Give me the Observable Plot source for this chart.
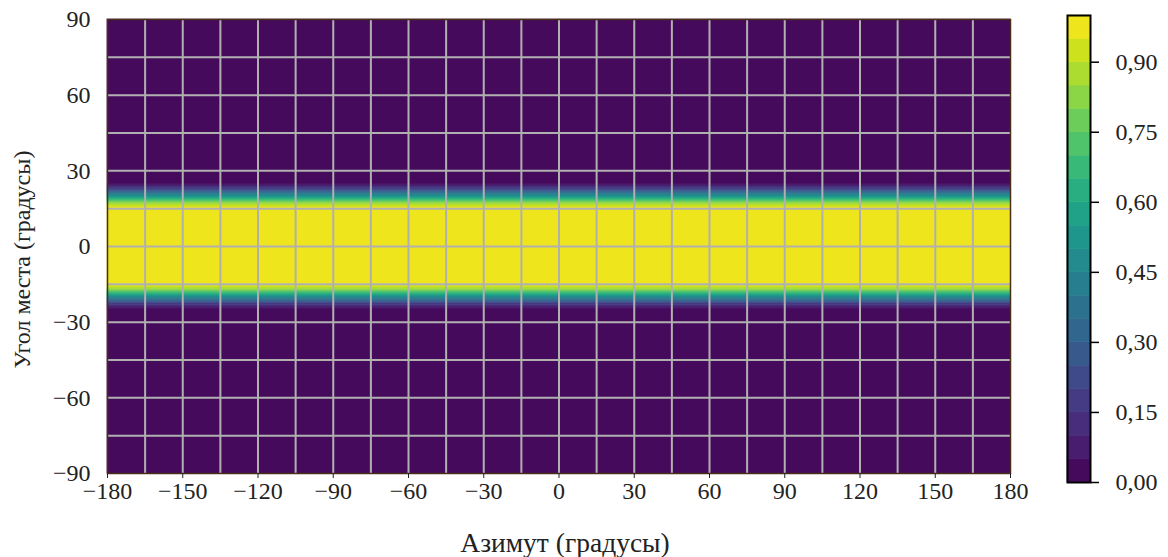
<!DOCTYPE html>
<html><head><meta charset="utf-8">
<script src="https://cdn.jsdelivr.net/npm/d3@7"></script>
<script src="https://cdn.jsdelivr.net/npm/@observablehq/plot@0.6"></script>
<style>
body{margin:0;background:#fff;}
#wrap{position:relative;width:1168px;height:557px;}
#main{position:absolute;left:0;top:0;}
#cbar{position:absolute;left:1040px;top:0;}
#wrap svg{overflow:visible;max-width:none;font-family:"Liberation Serif","Times New Roman",serif !important;font-size:24px;}
#wrap svg text{font-family:"Liberation Serif","Times New Roman",serif !important;fill:#222;}
</style></head><body><div id="wrap"><div id="main"></div><div id="cbar"></div></div>
<script>
// ---- data ----
const azimuthTicks = [-180, -150, -120, -90, -60, -30, 0, 30, 60, 90, 120, 150, 180];
const elevationTicks = [-90, -60, -30, 0, 30, 60, 90];
const azimuthGrid = [-165, -150, -135, -120, -105, -90, -75, -60, -45, -30, -15, 0, 15, 30, 45, 60, 75, 90, 105, 120, 135, 150, 165];
const elevationGrid = [-75, -60, -45, -30, -15, 0, 15, 30, 45, 60, 75];
const levels = [0, 0.05, 0.10, 0.15, 0.20, 0.25, 0.30, 0.35, 0.40, 0.45, 0.50, 0.55, 0.60, 0.65, 0.70, 0.75, 0.80, 0.85, 0.90, 0.95, 1.00];
// elevation (deg) where the pattern crosses levels[1..19], upper side
const upperCross = [24.6, 23.8, 23.1, 22.5, 22.0, 21.5, 21.1, 20.7, 20.25, 19.8, 19.4, 19.0, 18.6, 18.2, 17.75, 17.3, 16.8, 16.2, 15.4];
// elevation (deg) where the pattern crosses levels[1..19], lower side
const lowerCross = [-24.6, -23.8, -23.1, -22.5, -22.0, -21.5, -21.1, -20.7, -20.25, -19.8, -19.4, -19.0, -18.6, -18.2, -17.75, -17.3, -16.8, -16.2, -15.4];
const colorTicks = [0, 0.15, 0.30, 0.45, 0.60, 0.75, 0.90];
const xTitle = "Азимут (градусы)";
const yTitle = "Угол места (градусы)";

// ---- build band table ----
const elMin = elevationTicks[0], elMax = elevationTicks[elevationTicks.length - 1];
const azMin = azimuthTicks[0], azMax = azimuthTicks[azimuthTicks.length - 1];
const nb = levels.length - 1;
const bands = [];
for (let k = 0; k < nb; k++) {
  const v = (levels[k] + levels[k + 1]) / 2;
  if (k === nb - 1) {
    bands.push({y1: lowerCross[k - 1], y2: upperCross[k - 1], v});
  } else {
    const uTop = k === 0 ? elMax : upperCross[k - 1];
    const lBot = k === 0 ? elMin : lowerCross[k - 1];
    bands.push({y1: upperCross[k], y2: uTop, v});
    bands.push({y1: lBot, y2: lowerCross[k], v});
  }
}
const colorScale = {
  type: "threshold",
  domain: levels.slice(1, -1),
  range: levels.slice(0, -1).map((l, i) => d3.interpolateViridis((l + levels[i + 1]) / 2))
};
const font = {fontFamily: "Liberation Serif, Times New Roman, serif", fontSize: "24px", background: "transparent"};
const fmtNum = d => d < 0 ? "\u2212" + (-d) : String(d);

const main = Plot.plot({
  width: 1040, height: 557,
  marginLeft: 107, marginRight: 30, marginTop: 19, marginBottom: 84,
  style: font,
  x: {domain: [azMin, azMax]},
  y: {domain: [elMin, elMax]},
  color: colorScale,
  marks: [
    Plot.rect(bands, {x1: azMin, x2: azMax, y1: "y1", y2: "y2", fill: "v", stroke: "v", strokeWidth: 0.6}),
    Plot.ruleX(azimuthGrid, {stroke: "#b0b0b0", strokeWidth: 2}),
    Plot.ruleY(elevationGrid, {stroke: "#b0b0b0", strokeWidth: 2}),
    Plot.frame({stroke: "#4a2e1a", strokeWidth: 1.5}),
    Plot.axisX(azimuthTicks, {tickSize: 5, tickPadding: 3, stroke: "#222", label: null, tickFormat: fmtNum}),
    Plot.axisY(elevationTicks, {tickSize: 0, tickPadding: 17, label: null, tickFormat: fmtNum}),
    Plot.text([xTitle], {text: d => d, frameAnchor: "bottom", dy: 70, dx: 6, fontSize: 27.5, lineAnchor: "middle"}),
    Plot.text([yTitle], {text: d => d, frameAnchor: "left", dx: -85, dy: 13, rotate: -90, fontSize: 24, textAnchor: "middle", lineAnchor: "middle"})
  ]
});
document.getElementById("main").appendChild(main);

const cbands = levels.slice(0, -1).map((l, i) => ({y1: l, y2: levels[i + 1], v: (l + levels[i + 1]) / 2}));
const cbar = Plot.plot({
  width: 128, height: 557,
  marginLeft: 27, marginRight: 78, marginTop: 15, marginBottom: 75,
  style: font,
  x: {domain: [0, 1], axis: null},
  y: {domain: [levels[0], levels[levels.length - 1]]},
  color: colorScale,
  marks: [
    Plot.rect(cbands, {x1: 0, x2: 1, y1: "y1", y2: "y2", fill: "v", stroke: "v", strokeWidth: 0.6}),
    Plot.frame({stroke: "#000", strokeWidth: 2}),
    Plot.axisY(colorTicks, {anchor: "right", tickSize: 8, tickPadding: 17, strokeWidth: 1.5, stroke: "#000", label: null, tickFormat: d => d3.format(".2f")(d).replace(".", ",")})
  ]
});
document.getElementById("cbar").appendChild(cbar);
</script></body></html>
